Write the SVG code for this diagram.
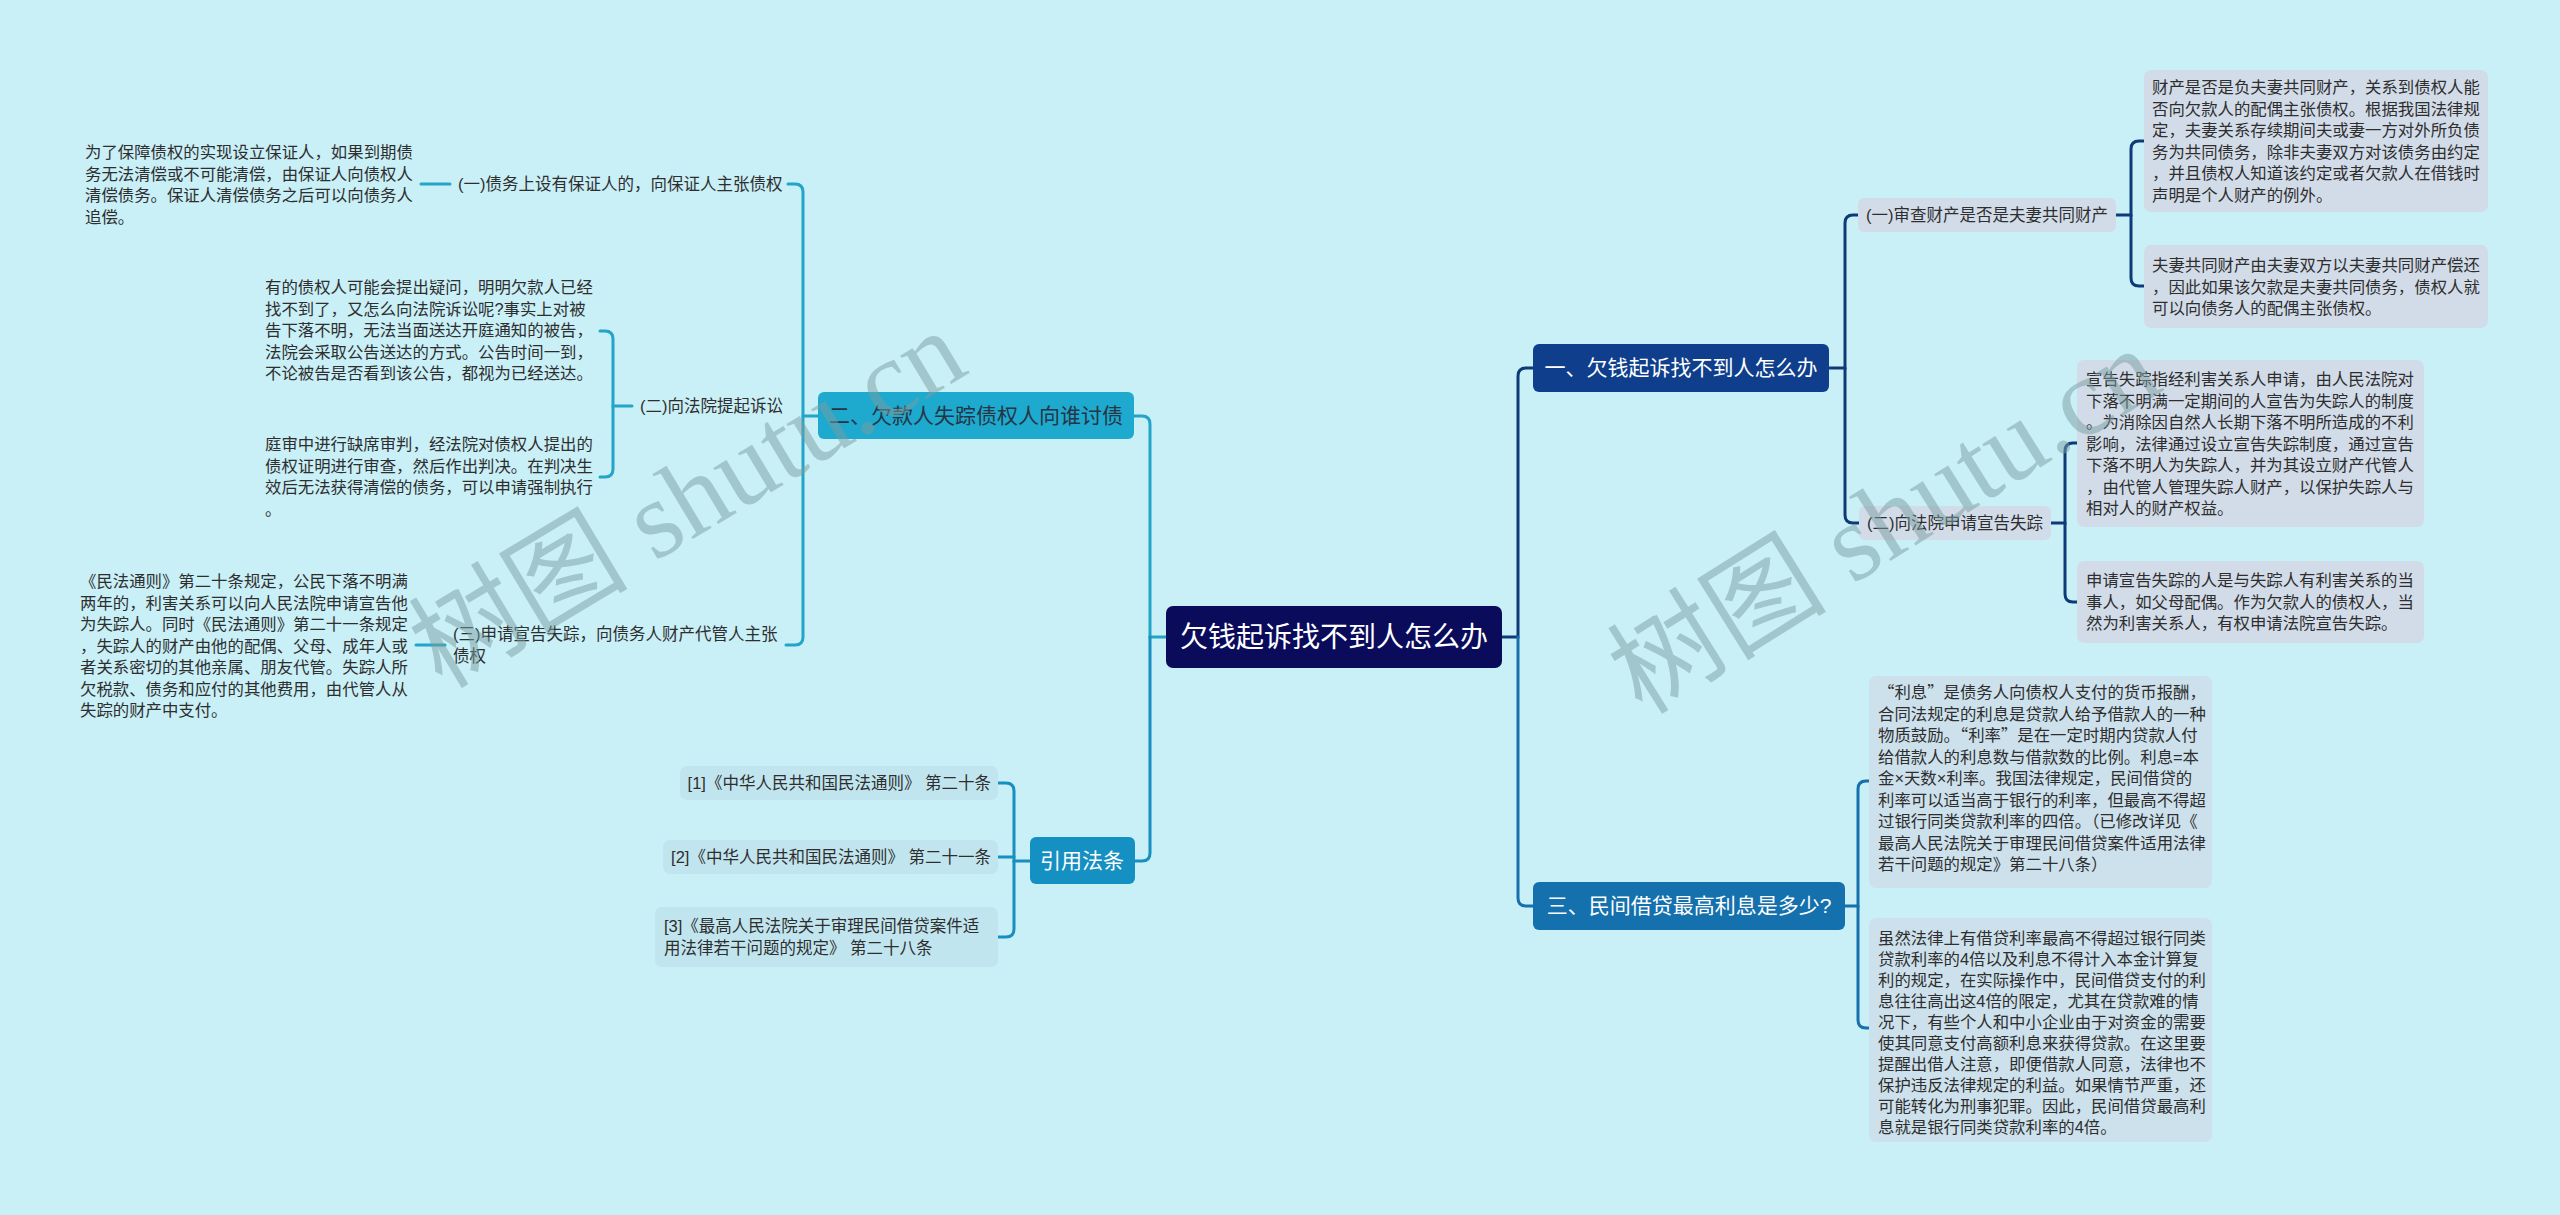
<svg xmlns="http://www.w3.org/2000/svg" width="2560" height="1215" viewBox="0 0 2560 1215">
<style>
text{font-family:"Liberation Sans","Noto Sans CJK SC",sans-serif;}
.leaf{font-size:16.4px;fill:#2e2e2e;}
.cjk{font-family:"Noto Sans CJK SC","Liberation Sans",sans-serif;}
.sub{font-size:16.5px;fill:#2e2e2e;}
.l1{font-size:21px;fill:#ffffff;}
.c{fill:none;stroke-width:3;stroke-linecap:round;}
.navy{stroke:#0f3a78;}
.blue{stroke:#1670ad;}
.teal{stroke:#22a5c8;}
.cite{stroke:#1690c0;}
.rbox{fill:#d2dce9;}
.rbox2{fill:#cde1ec;}
.cbox{fill:#c1e5ee;}
.wm{font-family:"Liberation Serif","Noto Sans CJK SC",serif;font-size:110px;fill:#7a9ea0;opacity:0.5;}
</style>
<rect x="0" y="0" width="2560" height="1215" fill="#c9eff7"/>

<g id="connectors">
  <path class="c navy" d="M1502 637 H1518 V376 Q1518 368 1526 368 H1533"/>
  <path class="c blue" d="M1518 637 V898 Q1518 906 1526 906 H1533"/>
  <path class="c teal" d="M1166 637 H1150 V424 Q1150 416 1142 416 H1134"/>
  <path class="c cite" d="M1150 637 V853 Q1150 861 1142 861 H1135"/>
  <path class="c navy" d="M1829 368 H1845 V223 Q1845 215 1853 215 H1858"/>
  <path class="c navy" d="M1845 368 V515 Q1845 523 1853 523 H1859"/>
  <path class="c navy" d="M2116 215 H2131 V149 Q2131 141 2139 141 H2144"/>
  <path class="c navy" d="M2131 215 V278 Q2131 286 2139 286 H2144"/>
  <path class="c navy" d="M2051 523 H2065 V451 Q2065 443 2073 443 H2077"/>
  <path class="c navy" d="M2065 523 V594 Q2065 602 2073 602 H2077"/>
  <path class="c blue" d="M1845 906 H1858 V789 Q1858 781 1866 781 H1869"/>
  <path class="c blue" d="M1858 906 V1020 Q1858 1028 1866 1028 H1869"/>
  <path class="c teal" d="M818 416 H803 V192 Q803 184 795 184 H788"/>
  <path class="c teal" d="M803 416 V637 Q803 645 795 645 H786"/>
  <path class="c teal" d="M450 184 H421"/>
  <path class="c teal" d="M632 406 H613 V339 Q613 331 605 331 H600"/>
  <path class="c teal" d="M613 406 V469 Q613 477 605 477 H600"/>
  <path class="c teal" d="M445 645 H416"/>
  <path class="c cite" d="M1030 861 H1014 V791 Q1014 783 1006 783 H998"/>
  <path class="c cite" d="M1014 861 V929 Q1014 937 1006 937 H998"/>
  <path class="c cite" d="M1014 857 H998"/>
</g>

<g id="root">
  <rect x="1166" y="606" width="336" height="62" rx="7" fill="#0b0b5c"/>
  <text x="1334" y="647" text-anchor="middle" font-size="28" fill="#ffffff">欠钱起诉找不到人怎么办</text>
</g>

<g id="b1">
  <rect x="1533" y="344" width="296" height="48" rx="6" fill="#0f3f8c"/>
  <text class="l1" x="1681" y="375" text-anchor="middle">一、欠钱起诉找不到人怎么办</text>
</g>
<g id="b3">
  <rect x="1533" y="882" width="312" height="48" rx="6" fill="#1570ae"/>
  <text class="l1" x="1689" y="913" text-anchor="middle">三、民间借贷最高利息是多少?</text>
</g>
<g id="b2">
  <rect x="818" y="392" width="316" height="47" rx="6" fill="#1ea9cf"/>
  <text x="976" y="423" text-anchor="middle" font-size="21" fill="#263545">二、欠款人失踪债权人向谁讨债</text>
</g>
<g id="b4">
  <rect x="1030" y="837" width="105" height="47" rx="6" fill="#1590c2"/>
  <text class="l1" x="1082" y="868" text-anchor="middle">引用法条</text>
</g>

<g id="b1s1">
  <rect class="rbox" x="1858" y="198" width="258" height="34" rx="6"/>
  <text class="sub" x="1866" y="221">(一)审查财产是否是夫妻共同财产</text>
</g>
<g id="b1s2">
  <rect class="rbox" x="1859" y="506" width="192" height="34" rx="6"/>
  <text class="sub" x="1867" y="529">(二)向法院申请宣告失踪</text>
</g>

<g id="leaf1">
  <rect class="rbox" x="2144" y="70" width="344" height="142" rx="7"/>
  <text class="leaf" x="2152" y="93">财产是否是负夫妻共同财产，关系到债权人能</text>
  <text class="leaf" x="2152" y="114.5">否向欠款人的配偶主张债权。根据我国法律规</text>
  <text class="leaf" x="2152" y="136">定，夫妻关系存续期间夫或妻一方对外所负债</text>
  <text class="leaf" x="2152" y="157.5">务为共同债务，除非夫妻双方对该债务由约定</text>
  <text class="leaf" x="2152" y="179">，并且债权人知道该约定或者欠款人在借钱时</text>
  <text class="leaf" x="2152" y="200.5">声明是个人财产的例外。</text>
</g>
<g id="leaf2">
  <rect class="rbox" x="2144" y="245" width="344" height="83" rx="7"/>
  <text class="leaf" x="2152" y="271">夫妻共同财产由夫妻双方以夫妻共同财产偿还</text>
  <text class="leaf" x="2152" y="292.5">，因此如果该欠款是夫妻共同债务，债权人就</text>
  <text class="leaf" x="2152" y="314">可以向债务人的配偶主张债权。</text>
</g>
<g id="leaf3">
  <rect class="rbox" x="2077" y="360" width="347" height="167" rx="7"/>
  <text class="leaf" x="2086" y="385">宣告失踪指经利害关系人申请，由人民法院对</text>
  <text class="leaf" x="2086" y="406.5">下落不明满一定期间的人宣告为失踪人的制度</text>
  <text class="leaf" x="2086" y="428">。为消除因自然人长期下落不明所造成的不利</text>
  <text class="leaf" x="2086" y="449.5">影响，法律通过设立宣告失踪制度，通过宣告</text>
  <text class="leaf" x="2086" y="471">下落不明人为失踪人，并为其设立财产代管人</text>
  <text class="leaf" x="2086" y="492.5">，由代管人管理失踪人财产，以保护失踪人与</text>
  <text class="leaf" x="2086" y="514">相对人的财产权益。</text>
</g>
<g id="leaf4">
  <rect class="rbox" x="2077" y="561" width="347" height="82" rx="7"/>
  <text class="leaf" x="2086" y="586">申请宣告失踪的人是与失踪人有利害关系的当</text>
  <text class="leaf" x="2086" y="607.5">事人，如父母配偶。作为欠款人的债权人，当</text>
  <text class="leaf" x="2086" y="629">然为利害关系人，有权申请法院宣告失踪。</text>
</g>
<g id="leaf5">
  <rect class="rbox2" x="1869" y="676" width="343" height="212" rx="7"/>
  <text class="leaf cjk" x="1878" y="698">“利息”是债务人向债权人支付的货币报酬，</text>
  <text class="leaf" x="1878" y="719.5">合同法规定的利息是贷款人给予借款人的一种</text>
  <text class="leaf cjk" x="1878" y="741">物质鼓励。“利率”是在一定时期内贷款人付</text>
  <text class="leaf" x="1878" y="762.5">给借款人的利息数与借款数的比例。利息=本</text>
  <text class="leaf" x="1878" y="784">金×天数×利率。我国法律规定，民间借贷的</text>
  <text class="leaf" x="1878" y="805.5">利率可以适当高于银行的利率，但最高不得超</text>
  <text class="leaf" x="1878" y="827">过银行同类贷款利率的四倍。（已修改详见《</text>
  <text class="leaf" x="1878" y="848.5">最高人民法院关于审理民间借贷案件适用法律</text>
  <text class="leaf" x="1878" y="870">若干问题的规定》第二十八条）</text>
</g>
<g id="leaf6">
  <rect class="rbox2" x="1869" y="918" width="343" height="224" rx="7"/>
  <text class="leaf" x="1878" y="944">虽然法律上有借贷利率最高不得超过银行同类</text>
  <text class="leaf" x="1878" y="965">贷款利率的4倍以及利息不得计入本金计算复</text>
  <text class="leaf" x="1878" y="986">利的规定，在实际操作中，民间借贷支付的利</text>
  <text class="leaf" x="1878" y="1007">息往往高出这4倍的限定，尤其在贷款难的情</text>
  <text class="leaf" x="1878" y="1028">况下，有些个人和中小企业由于对资金的需要</text>
  <text class="leaf" x="1878" y="1049">使其同意支付高额利息来获得贷款。在这里要</text>
  <text class="leaf" x="1878" y="1070">提醒出借人注意，即便借款人同意，法律也不</text>
  <text class="leaf" x="1878" y="1091">保护违反法律规定的利益。如果情节严重，还</text>
  <text class="leaf" x="1878" y="1112">可能转化为刑事犯罪。因此，民间借贷最高利</text>
  <text class="leaf" x="1878" y="1133">息就是银行同类贷款利率的4倍。</text>
</g>

<g id="b2s1">
  <text class="sub" x="458" y="190">(一)债务上设有保证人的，向保证人主张债权</text>
</g>
<g id="b2s2">
  <text class="sub" x="640" y="412">(二)向法院提起诉讼</text>
</g>
<g id="b2s3">
  <text class="sub" x="453" y="640">(三)申请宣告失踪，向债务人财产代管人主张</text>
  <text class="sub" x="453" y="661.5">债权</text>
</g>
<g id="leafL1">
  <text class="leaf" x="85" y="158">为了保障债权的实现设立保证人，如果到期债</text>
  <text class="leaf" x="85" y="179.5">务无法清偿或不可能清偿，由保证人向债权人</text>
  <text class="leaf" x="85" y="201">清偿债务。保证人清偿债务之后可以向债务人</text>
  <text class="leaf" x="85" y="222.5">追偿。</text>
</g>
<g id="leafL2">
  <text class="leaf" x="265" y="293">有的债权人可能会提出疑问，明明欠款人已经</text>
  <text class="leaf" x="265" y="314.5">找不到了，又怎么向法院诉讼呢?事实上对被</text>
  <text class="leaf" x="265" y="336">告下落不明，无法当面送达开庭通知的被告，</text>
  <text class="leaf" x="265" y="357.5">法院会采取公告送达的方式。公告时间一到，</text>
  <text class="leaf" x="265" y="379">不论被告是否看到该公告，都视为已经送达。</text>
</g>
<g id="leafL3">
  <text class="leaf" x="265" y="450">庭审中进行缺席审判，经法院对债权人提出的</text>
  <text class="leaf" x="265" y="471.5">债权证明进行审查，然后作出判决。在判决生</text>
  <text class="leaf" x="265" y="493">效后无法获得清偿的债务，可以申请强制执行</text>
  <text class="leaf" x="265" y="514.5">。</text>
</g>
<g id="leafL4">
  <text class="leaf" x="80" y="587">《民法通则》第二十条规定，公民下落不明满</text>
  <text class="leaf" x="80" y="608.5">两年的，利害关系可以向人民法院申请宣告他</text>
  <text class="leaf" x="80" y="630">为失踪人。同时《民法通则》第二十一条规定</text>
  <text class="leaf" x="80" y="651.5">，失踪人的财产由他的配偶、父母、成年人或</text>
  <text class="leaf" x="80" y="673">者关系密切的其他亲属、朋友代管。失踪人所</text>
  <text class="leaf" x="80" y="694.5">欠税款、债务和应付的其他费用，由代管人从</text>
  <text class="leaf" x="80" y="716">失踪的财产中支付。</text>
</g>

<g id="cite1">
  <rect class="cbox" x="680" y="766" width="318" height="34" rx="7"/>
  <text class="sub" x="991" y="789" text-anchor="end">[1]《中华人民共和国民法通则》 第二十条</text>
</g>
<g id="cite2">
  <rect class="cbox" x="663" y="840" width="335" height="34" rx="7"/>
  <text class="sub" x="991" y="863" text-anchor="end">[2]《中华人民共和国民法通则》 第二十一条</text>
</g>
<g id="cite3">
  <rect class="cbox" x="655" y="907" width="343" height="60" rx="7"/>
  <text class="sub" x="664" y="932">[3]《最高人民法院关于审理民间借贷案件适</text>
  <text class="sub" x="664" y="954">用法律若干问题的规定》 第二十八条</text>
</g>

<g id="watermarks">
  <text class="wm" x="688" y="536" text-anchor="middle" transform="rotate(-31 688 500)">树图 shutu.cn</text>
  <text class="wm" x="1885" y="558" text-anchor="middle" transform="rotate(-32 1885 522)">树图 shutu.cn</text>
</g>
</svg>
